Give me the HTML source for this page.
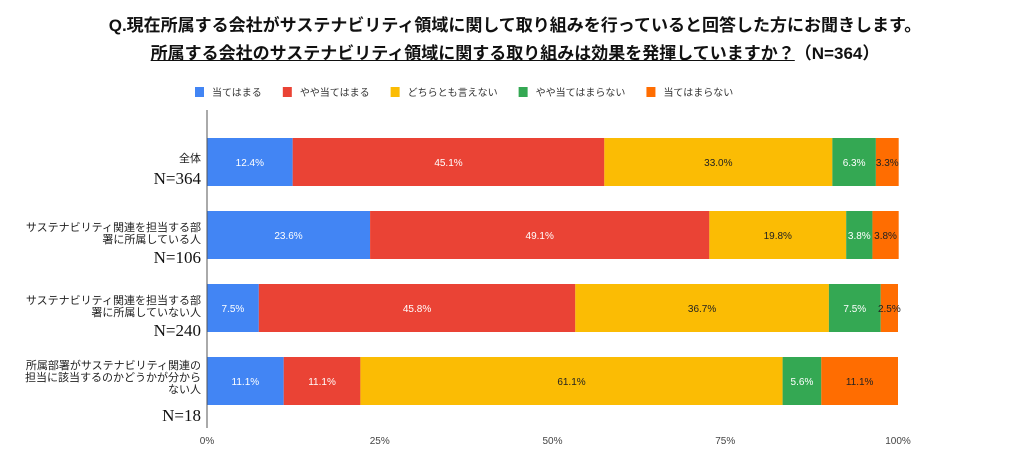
<!DOCTYPE html>
<html><head><meta charset="utf-8"><style>
body{margin:0;width:1021px;height:463px;background:#fff;overflow:hidden;font-family:"Liberation Sans","Noto Sans CJK JP",sans-serif;}
.t{position:absolute;left:0;width:1030px;text-align:center;font-weight:bold;font-size:17px;color:#111;}
</style></head><body>
<div class="t" style="top:11px">Q.現在所属する会社がサステナビリティ領域に関して取り組みを行っていると回答した方にお聞きします。</div>
<div class="t" style="top:39px"><span style="text-decoration:underline">所属する会社のサステナビリティ領域に関する取り組みは効果を発揮していますか？</span>（N=364）</div>
<svg id="c" width="1021" height="463" style="position:absolute;left:0;top:0"></svg>
<script>
const categories=[["全体"],["サステナビリティ関連を担当する部","署に所属している人"],["サステナビリティ関連を担当する部","署に所属していない人"],["所属部署がサステナビリティ関連の","担当に該当するのかどうかが分から","ない人"]];
const nLabels=["N=364","N=106","N=240","N=18"];
const seriesNames=["当てはまる","やや当てはまる","どちらとも言えない","やや当てはまらない","当てはまらない"];
const s1=[12.4,23.6,7.5,11.1];
const s2=[45.1,49.1,45.8,11.1];
const s3=[33.0,19.8,36.7,61.1];
const s4=[6.3,3.8,7.5,5.6];
const s5=[3.3,3.8,2.5,11.1];
const ticks=[0,25,50,75,100];
const colors=["#4285F4","#EA4335","#FBBC04","#34A853","#FF6D01"];
const textCol=["#fff","#fff","#222","#fff","#222"];
const svg=document.getElementById('c');const NS="http://www.w3.org/2000/svg";
function mk(t,a,p){const e=document.createElementNS(NS,t);for(const k in a)e.setAttribute(k,a[k]);(p||svg).appendChild(e);return e;}
const x=v=>207+v*(898-207)/100;
const y=i=>138+i*73;const bh=48;
ticks.forEach(t=>{const e=mk('text',{x:x(t),y:444,'text-anchor':'middle','font-size':10,fill:'#444'});e.textContent=t+'%';

});
const series=[s1,s2,s3,s4,s5];
categories.forEach((c,i)=>{let acc=0;
series.forEach((s,j)=>{const v=s[i];
const r=mk('rect',{x:x(acc),y:y(i),width:x(acc+v)-x(acc),height:bh,fill:colors[j]});


const tx=mk('text',{x:(x(acc)+x(acc+v))/2,y:y(i)+bh/2+4,'text-anchor':'middle','font-size':10,fill:textCol[j]});tx.textContent=v.toFixed(1)+'%';


acc+=v;});
const n=c.length;const lh=12;const top=c.length===1?y(i)+24:y(i)+(n===3?12:20);
c.forEach((l,k)=>{const e=mk('text',{x:201,y:top+k*lh,'text-anchor':'end','font-size':11,fill:'#222'});e.textContent=l;

});
const ny=c.length===1?y(i)+46:(n===3?y(i)+64:y(i)+52);
const ne=mk('text',{x:201,y:ny,'text-anchor':'end','font-size':17,fill:'#111','font-family':'Liberation Serif,serif'});ne.textContent=nLabels[i];


});
mk('line',{x1:207,y1:110,x2:207,y2:428,stroke:'#555','stroke-width':1});
let lx=195;
seriesNames.forEach((n,j)=>{mk('rect',{x:lx,y:87,width:9,height:10,fill:colors[j]});
const e=mk('text',{x:lx+17,y:96,'font-size':10,fill:'#333'});e.textContent=n;


lx+=17+e.getComputedTextLength()+21;});
</script>
</body></html>
